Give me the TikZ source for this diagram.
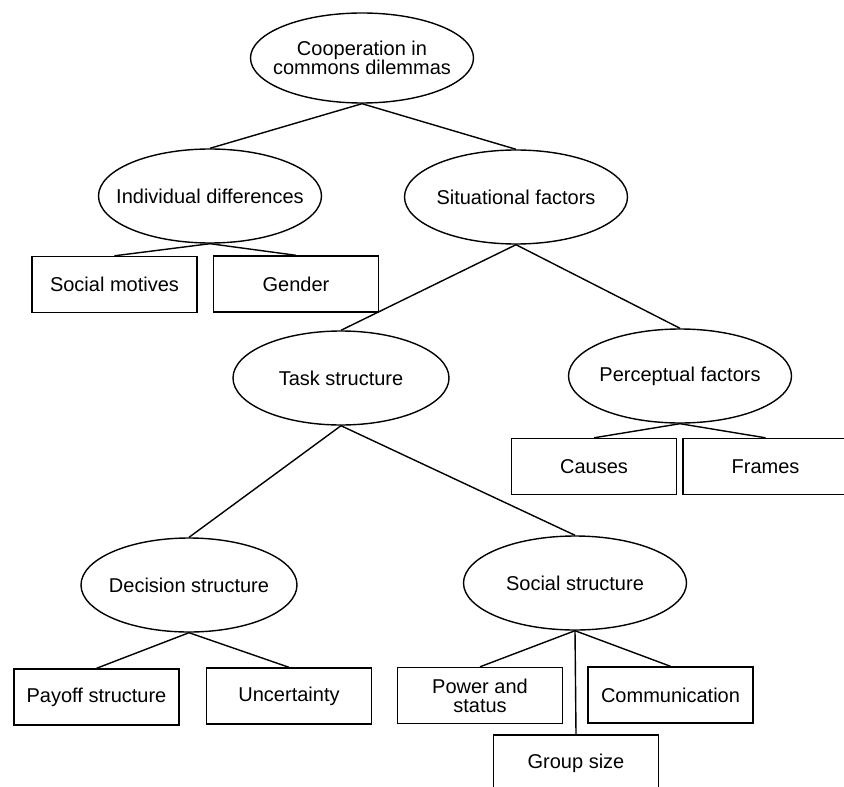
\documentclass[tikz,border=0pt]{standalone}
\usepackage{fontspec}
\setmainfont{Liberation Sans}
\usetikzlibrary{shapes.geometric}

\begin{document}
\begin{tikzpicture}[x=0.5pt,y=-0.5pt,line width=0.7pt,
        font=\fontsize{10}{9.5}\selectfont,
        topic/.style={draw,ellipse,align=center,inner xsep=-12pt,
            inner ysep=0pt,minimum width=111.5pt,minimum height=47pt},
        item/.style={draw,rectangle,align=center,inner sep=0pt,
            minimum width=82.5pt,minimum height=28pt}]
        \useasboundingbox (0,0) rectangle (844,786);
        \clip (0,0) rectangle (844,786);

        % Ellipses
        \node [topic,minimum height=45pt] (coop) at (362,58)
            {Cooperation in\\commons dilemmas};
        \node [topic] (indiv) at (210,196) {Individual differences};
        \node [topic] (situ) at (516,197) {Situational factors};
        \node [topic,minimum width=108pt] (task) at (341,378) {Task structure};
        \node [topic] (percep) at (680,376) {Perceptual factors};
        \node [topic,minimum width=108pt] (decis) at (189,585)
            {Decision structure};
        \node [topic] (social) at (575,583) {Social structure};

        % Boxes
        \node [item] (motives) at (114.5,284.5) {Social motives};
        \node [item] (gender) at (296,284) {Gender};
        \node [item] (causes) at (594,466.5) {Causes};
        \node [item] (frames) at (765.5,466.5) {Frames};
        \node [item] (payoff) at (96.5,697) {Payoff structure};
        \node [item] (uncert) at (289,696) {Uncertainty};
        \node [item] (power) at (480,695.5) {Power and\\status};
        \node [item] (comm) at (670.5,695) {Communication};
        \node [item] (size) at (576,763) {Group size};

        % Links
        \draw (coop.south) -- (indiv.north);
        \draw (coop.south) -- (situ.north);
        \draw (indiv.south) -- (motives.north);
        \draw (indiv.south) -- (gender.north);
        \draw (situ.south) -- (task.north);
        \draw (situ.south) -- (percep.north);
        \draw (percep.south) -- (causes.north);
        \draw (percep.south) -- (frames.north);
        \draw (task.south) -- (decis.north);
        \draw (task.south) -- (social.north);
        \draw (decis.south) -- (payoff.north);
        \draw (decis.south) -- (uncert.north);
        \draw (social.south) -- (power.north);
        \draw (social.south) -- (comm.north);
        \draw (social.south) -- (size.north);
    \end{tikzpicture}
\end{document}
